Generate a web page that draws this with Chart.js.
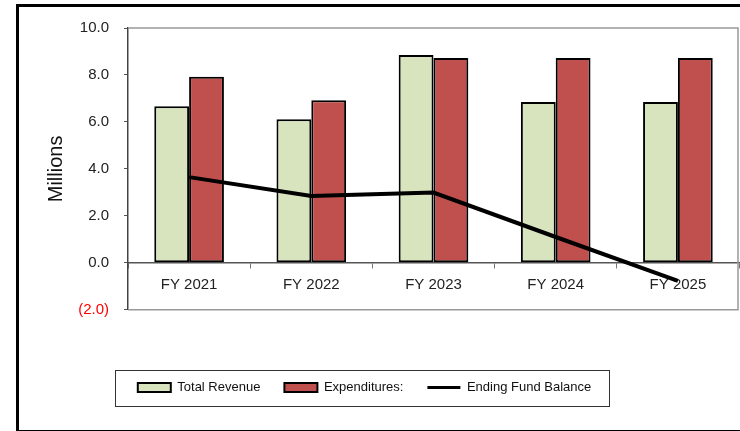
<!DOCTYPE html>
<html>
<head>
<meta charset="utf-8">
<script src="https://cdn.jsdelivr.net/npm/chart.js@4.4.1/dist/chart.umd.min.js"></script>
<style>
  html, body { margin: 0; padding: 0; background: #fff; overflow: hidden; }
  #wrap { position: relative; width: 740px; height: 431px; }
  #frame {
    position: absolute; left: 16px; top: 4px; width: 760px; height: 423px;
    border-left: 3px solid #000; border-top: 3px solid #000; border-bottom: 2px solid #000;
    pointer-events: none;
  }
  canvas { position: absolute; left: 0; top: 0; }
</style>
</head>
<body>
<div id="wrap">
  <canvas id="fundChart"></canvas>
  <div id="frame"></div>
</div>
<script>
// Fiscal years and amounts (millions)
const years = ['FY 2021', 'FY 2022', 'FY 2023', 'FY 2024', 'FY 2025'];
const totalRevenue = [6.67, 6.11, 8.85, 6.85, 6.85];
const expenditures = [7.92, 6.92, 8.72, 8.72, 8.72];
const endingBalance = [3.65, 2.85, 2.99, 1.1, -0.77];

const yMin = -2;
const yMax = 10;
const yStep = 2;

Chart.defaults.font.family = "'Liberation Sans', Arial, sans-serif";
Chart.defaults.color = '#222';

// gray border round the plot area
const plotBorder = {
    id: 'plotBorder',
    beforeDatasetsDraw(chart) {
        const { ctx, chartArea: a } = chart;
        ctx.save();
        ctx.strokeStyle = '#999';
        ctx.lineWidth = 1.5;
        ctx.beginPath();
        ctx.moveTo(a.left, a.top);
        ctx.lineTo(a.right - 1, a.top);
        ctx.lineTo(a.right - 1, a.bottom);
        ctx.lineTo(a.left, a.bottom);
        ctx.stroke();
        ctx.restore();
    }
};

// nudge legend left and draw a box round it
const legendBox = {
    id: 'legendBox',
    afterLayout(chart) {
        chart.legend.left -= 5;
        chart.legend.right -= 5;
    },
    afterDraw(chart) {
        const boxes = chart.legend.legendHitBoxes;
        if (!boxes || !boxes.length) return;
        const first = boxes[0];
        const last = boxes[boxes.length - 1];
        const midY = first.top + first.height / 2;
        const { ctx } = chart;
        ctx.save();
        ctx.strokeStyle = '#333';
        ctx.lineWidth = 1;
        ctx.strokeRect(Math.round(first.left - 23) + 0.5, Math.round(midY - 18) + 0.5,
            Math.round(last.left + last.width - first.left + 41), 36);
        ctx.restore();
    }
};

new Chart(document.getElementById('fundChart'), {
    type: 'bar',
    data: {
        labels: years,
        datasets: [{
            label: 'Total Revenue',
            data: totalRevenue,
            backgroundColor: '#d7e4bd',
            borderColor: '#000',
            borderWidth: 2,
            borderSkipped: false,
            pointStyle: 'rect',
            order: 1
        }, {
            label: 'Expenditures:',
            data: expenditures,
            backgroundColor: '#c0504d',
            borderColor: '#000',
            borderWidth: 2,
            borderSkipped: false,
            pointStyle: 'rect',
            order: 1
        }, {
            type: 'line',
            label: 'Ending Fund Balance',
            data: endingBalance,
            borderColor: '#000',
            backgroundColor: '#000',
            borderWidth: 4,
            pointRadius: 0,
            pointHoverRadius: 0,
            pointStyle: 'line',
            pointBorderWidth: 3,
            tension: 0,
            order: 0
        }]
    },
    options: {
        responsive: true,
        maintainAspectRatio: false,
        animation: false,
        categoryPercentage: 0.57,
        barPercentage: 1.0,
        layout: { padding: { top: 28, right: 1, bottom: 27, left: 0 } },
        plugins: {
            legend: {
                position: 'bottom',
                // empty title keeps a gap between the axis labels and the legend row
                title: {
                    display: true,
                    text: '',
                    font: { size: 1 },
                    padding: { top: 46, bottom: 0 }
                },
                labels: {
                    usePointStyle: true,
                    pointStyleWidth: 33,
                    boxHeight: 9,
                    padding: 24,
                    color: '#111',
                    font: { size: 13 },
                    sort: (a, b) => a.datasetIndex - b.datasetIndex
                }
            },
            title: { display: false },
            tooltip: { enabled: false }
        },
        scales: {
            x: {
                position: { y: 0 },
                offset: true,
                grid: {
                    drawOnChartArea: false,
                    offset: true,
                    tickLength: 5,
                    color: '#777'
                },
                border: { color: '#555', width: 1.5 },
                ticks: {
                    padding: 8,
                    color: '#222',
                    font: { size: 15 }
                }
            },
            y: {
                min: yMin,
                max: yMax,
                afterFit(scale) { scale.width = 128; },
                grid: {
                    drawOnChartArea: false,
                    tickLength: 4,
                    color: '#555'
                },
                border: { color: '#444', width: 1.5 },
                ticks: {
                    stepSize: yStep,
                    padding: 15,
                    font: { size: 15 },
                    color: ctx => ctx.tick.value < 0 ? '#ff0000' : '#222',
                    callback: v => v < 0 ? '(' + Math.abs(v).toFixed(1) + ')' : v.toFixed(1)
                },
                title: {
                    display: true,
                    text: 'Millions',
                    color: '#111',
                    font: { size: 20 },
                    padding: { top: 44, bottom: 0 }
                }
            }
        }
    },
    plugins: [plotBorder, legendBox]
});
</script>
</body>
</html>
